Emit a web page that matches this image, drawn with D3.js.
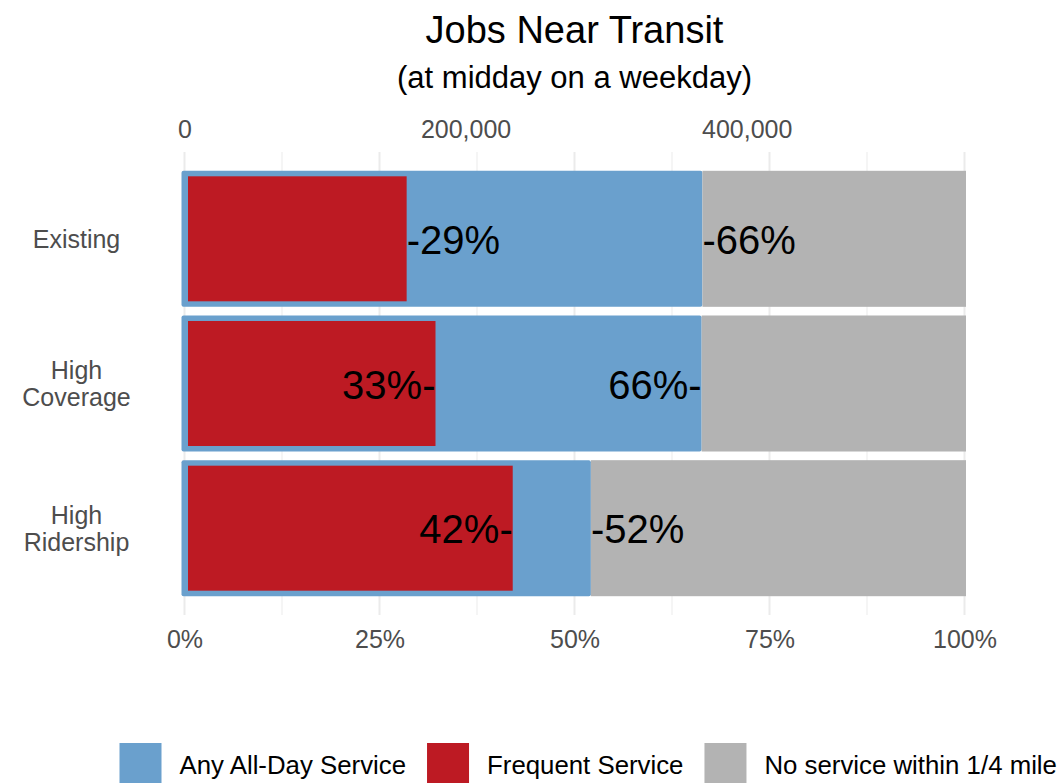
<!DOCTYPE html>
<meta charset="utf-8">
<script src="https://cdn.jsdelivr.net/npm/d3@7"></script>
<style>

body {
  margin: 0;
  background: #fff;
  font-family: "Liberation Sans", Arial, sans-serif;
}

.axis text {
  fill: #4d4d4d;
  font-size: 25px;
  font-family: "Liberation Sans", Arial, sans-serif;
}

.axis path {
  display: none;
}

.grid line {
  stroke: #ebebeb;
}

</style>
<body>
<script>

  // Data
  var scenarios = ["Existing", "High Coverage", "High Ridership"],
      scenarioLines = [["Existing"], ["High", "Coverage"], ["High", "Ridership"]],
      frequentShare = [0.288, 0.325, 0.424],
      anyServiceShare = [0.664, 0.663, 0.521],
      frequentLabelSide = ["right", "left", "left"],
      anyLabelSide = ["right", "left", "right"],
      totalJobs = 555000,
      jobTicks = [0, 200000, 400000],
      pctTicks = [0, 0.25, 0.5, 0.75, 1],
      minorTicks = [0.125, 0.375, 0.625, 0.875],
      legendKeys = ["Any All-Day Service", "Frequent Service", "No service within 1/4 mile"];

  var colors = {
    "Any All-Day Service": "#6aa0cd",
    "Frequent Service": "#bd1a23",
    "No service within 1/4 mile": "#b3b3b3"
  };

  var width = 1059, height = 783,
      panel = {left: 184.5, right: 964.5, top: 152, bottom: 615};

  var svg = d3.select("body").append("svg")
    .attr("width", width)
    .attr("height", height);

  var x = d3.scaleLinear().domain([0, 1]).range([panel.left, panel.right]);
  var xJobs = d3.scaleLinear().domain([0, totalJobs]).range([panel.left, panel.right]);
  var y = d3.scaleBand().domain(scenarios)
    .range([panel.top, panel.bottom])
    .paddingInner(0.06)
    .paddingOuter(0.13);

  var rows = scenarios.map(function(s, i) {
    return {name: s, lines: scenarioLines[i], freq: frequentShare[i], any: anyServiceShare[i],
            freqSide: frequentLabelSide[i], anySide: anyLabelSide[i]};
  });

  //////////////////// Title ////////////////////
  svg.append("text")
    .text("Jobs Near Transit")
    .attr("x", (panel.left + panel.right) / 2)
    .attr("y", 43)
    .attr("text-anchor", "middle")
    .attr("font-size", "38px")
    .attr("fill", "#000");

  svg.append("text")
    .text("(at midday on a weekday)")
    .attr("x", (panel.left + panel.right) / 2)
    .attr("y", 88)
    .attr("text-anchor", "middle")
    .attr("font-size", "31px")
    .attr("fill", "#000");

  //////////////////// Grid ////////////////////
  var grid = svg.append("g").attr("class", "grid");
  grid.selectAll(".minor")
    .data(minorTicks).enter().append("line")
    .attr("x1", x).attr("x2", x)
    .attr("y1", panel.top).attr("y2", panel.bottom)
    .attr("stroke-width", 1);
  grid.selectAll(".major")
    .data(pctTicks).enter().append("line")
    .attr("x1", x).attr("x2", x)
    .attr("y1", panel.top).attr("y2", panel.bottom)
    .attr("stroke-width", 2);

  //////////////////// Bars ////////////////////
  var bar = svg.selectAll(".bar")
    .data(rows).enter().append("g")
    .attr("class", "bar");

  bar.append("rect")
    .attr("x", x(0) - 3)
    .attr("y", function(d) { return y(d.name); })
    .attr("width", function(d) { return x(d.any) - x(0) + 3; })
    .attr("height", y.bandwidth())
    .attr("rx", 2)
    .attr("fill", colors["Any All-Day Service"]);

  bar.append("rect")
    .attr("x", function(d) { return x(d.any); })
    .attr("y", function(d) { return y(d.name); })
    .attr("width", function(d) { return x(1) - x(d.any) + 1.5; })
    .attr("height", y.bandwidth())
    .attr("fill", colors["No service within 1/4 mile"]);

  bar.append("rect")
    .attr("x", x(0) + 3.5)
    .attr("y", function(d) { return y(d.name) + 5.5; })
    .attr("width", function(d) { return x(d.freq) - x(0) - 6; })
    .attr("height", y.bandwidth() - 11)
    .attr("fill", colors["Frequent Service"]);

  // Percent labels, with a dash pointing at the bar end
  var pct = d3.format(".0%");
  function addLabel(sel, key, sideKey, offset) {
    sel.append("text")
      .text(function(d) { return d[sideKey] == "right" ? "-" + pct(d[key]) : pct(d[key]) + "-"; })
      .attr("x", function(d) { return x(d[key]) + offset; })
      .attr("y", function(d) { return y(d.name) + y.bandwidth() / 2 + 15; })
      .attr("text-anchor", function(d) { return d[sideKey] == "right" ? "start" : "end"; })
      .attr("font-size", "40px")
      .attr("fill", "#000");
  }
  addLabel(bar, "freq", "freqSide", -2.5);
  addLabel(bar, "any", "anySide", 0);

  //////////////////// Axes ////////////////////
  var topAxis = svg.append("g")
    .attr("class", "axis")
    .attr("transform", "translate(0,141)")
    .call(d3.axisTop(xJobs).tickValues(jobTicks).tickSize(0).tickPadding(3).tickFormat(d3.format(",")));

  var bottomAxis = svg.append("g")
    .attr("class", "axis")
    .call(d3.axisBottom(x).tickValues(pctTicks).tickSize(0).tickFormat(pct));
  bottomAxis.selectAll("text")
    .attr("y", 648)
    .attr("dy", null);

  // Scenario labels on the left
  var yLab = svg.append("g").attr("class", "axis");
  yLab.selectAll("text")
    .data(rows).enter().append("text")
    .attr("text-anchor", "middle")
    .attr("transform", function(d) {
      var c = y(d.name) + y.bandwidth() / 2;
      return "translate(76.5," + (c + 9 - (d.lines.length - 1) * 13.5) + ")";
    })
    .selectAll("tspan")
    .data(function(d) { return d.lines; })
    .enter().append("tspan")
    .attr("x", 0)
    .attr("dy", function(d, i) { return i == 0 ? 0 : 27; })
    .text(function(d) { return d; });

  //////////////////// Legend ////////////////////
  var legend = svg.append("g").attr("class", "legend");
  var lx = 119.5;
  legendKeys.forEach(function(k) {
    legend.append("rect")
      .attr("x", lx)
      .attr("y", 743)
      .attr("width", 42)
      .attr("height", 42)
      .attr("fill", colors[k]);
    var t = legend.append("text")
      .text(k)
      .attr("x", lx + 60)
      .attr("y", 774)
      .attr("font-size", "25.8px")
      .attr("fill", "#000");
    lx += 60 + t.node().getComputedTextLength() + 21;
  });

</script>
</body>
</html>
